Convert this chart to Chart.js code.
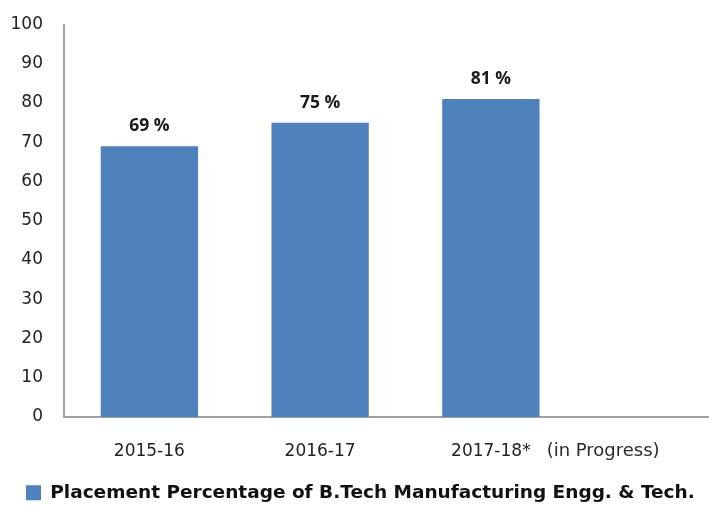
<!DOCTYPE html>
<html>
<head>
<meta charset="utf-8">
<title>Placement Percentage</title>
<script src="https://cdn.jsdelivr.net/npm/chart.js@4"></script>
<style>
  html, body { margin: 0; padding: 0; background: #fff; overflow: hidden; }
  #wrap { width: 709px; height: 506px; overflow: hidden; }
  canvas { display: block; }
</style>
</head>
<body>
<div id="wrap"><canvas id="placementChart" width="747" height="512"></canvas></div>
<script>
// data
const categories = ['2015-16', '2016-17', '2017-18*', ''];
const placementPct = [69, 75, 81, null];
const yTicks = [0, 10, 20, 30, 40, 50, 60, 70, 80, 90, 100];
const seriesName = 'Placement Percentage of B.Tech Manufacturing Engg. & Tech.';
const progressNote = '(in Progress)';

const BAR_BLUE = '#4f81bd';
const TICK_FONT = { family: 'DejaVu Sans', size: 17 };
const X_TICK_PAD = 24.3;

// value labels above the bars
const barLabels = {
    id: 'barLabels',
    afterDatasetsDraw(chart) {
        const ctx = chart.ctx;
        const meta = chart.getDatasetMeta(0);
        ctx.save();
        ctx.font = 'bold 17.5px "Open Sans"';
        ctx.fillStyle = '#1a1a1a';
        ctx.textAlign = 'center';
        ctx.textBaseline = 'alphabetic';
        meta.data.forEach((bar, i) => {
            const v = placementPct[i];
            if (v == null) return;
            ctx.fillText(v + ' %', bar.x, bar.y - 15);
        });
        ctx.restore();
    }
};

// "(in Progress)" follows the third category label
const noteAfterLabel = {
    id: 'noteAfterLabel',
    afterDraw(chart) {
        const xs = chart.scales.x;
        const ctx = chart.ctx;
        ctx.save();
        ctx.font = TICK_FONT.size + 'px "' + TICK_FONT.family + '"';
        const w = ctx.measureText(categories[2]).width;
        const cx = xs.getPixelForTick(2);
        const y = xs.top + X_TICK_PAD + TICK_FONT.size * 1.2 / 2;
        ctx.font = '18px "DejaVu Sans"';
        ctx.fillStyle = '#2a2a2a';
        ctx.textAlign = 'left';
        ctx.textBaseline = 'middle';
        ctx.fillText(progressNote, cx + w / 2 + 16, y);
        ctx.restore();
    }
};

new Chart(document.getElementById('placementChart').getContext('2d'), {
    type: 'bar',
    data: {
        labels: categories,
        datasets: [{
            label: seriesName,
            data: placementPct,
            backgroundColor: BAR_BLUE,
            borderWidth: 0,
            categoryPercentage: 1,
            barPercentage: 0.57
        }]
    },
    options: {
        responsive: false,
        animation: false,
        devicePixelRatio: 1,
        layout: { padding: { top: 24.5, left: 4, right: 0, bottom: 0 } },
        plugins: {
            legend: {
                position: 'bottom',
                align: 'start',
                labels: {
                    boxWidth: 15,
                    boxHeight: 15,
                    padding: 22,
                    color: '#111',
                    font: { family: 'DejaVu Sans', size: 18.5, weight: 'bold' }
                }
            },
            tooltip: { enabled: false }
        },
        scales: {
            x: {
                grid: { display: false, drawTicks: false },
                border: { display: true, color: '#a0a0a0', width: 2 },
                afterFit: scale => { scale.height = 44.5; },
                ticks: { color: '#222', font: TICK_FONT, padding: X_TICK_PAD, maxRotation: 0, autoSkip: false }
            },
            y: {
                min: 0,
                max: 100,
                grid: { display: false, drawTicks: false },
                border: { display: true, color: '#a0a0a0', width: 2 },
                afterBuildTicks: scale => { scale.ticks = yTicks.map(v => ({ value: v })); },
                afterFit: scale => {
                    scale.width = 60;
                    scale.paddingTop = 0;
                    scale.paddingBottom = 0;
                },
                ticks: { color: '#222', font: TICK_FONT, padding: 21 }
            }
        }
    },
    plugins: [barLabels, noteAfterLabel]
});
</script>
</body>
</html>
